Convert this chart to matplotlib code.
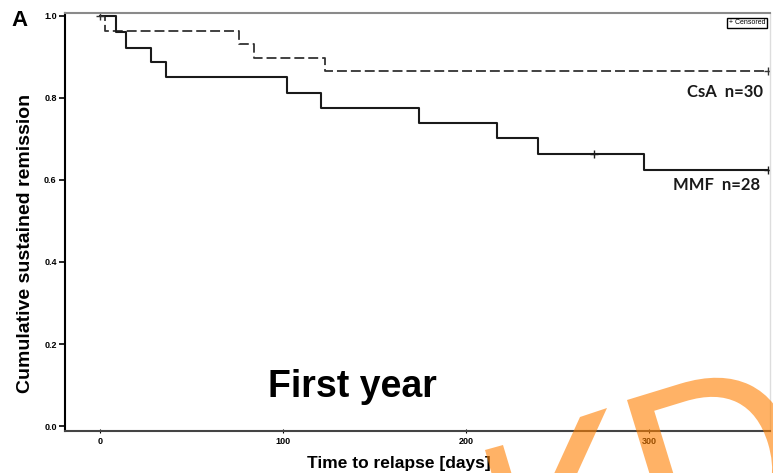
import numpy as np
import matplotlib
matplotlib.use("Agg")
import matplotlib.pyplot as plt
from matplotlib.patches import Polygon, PathPatch
from matplotlib.textpath import TextPath
from matplotlib.font_manager import FontProperties
from matplotlib.transforms import Affine2D, IdentityTransform

# --- data ---
csa_days = [0, 3, 76, 84, 123, 365]
csa_surv = [1.0, 0.963, 0.932, 0.898, 0.866, 0.866]
csa_cens_days = [0, 365]
csa_cens_surv = [1.0, 0.866]

mmf_days = [0, 9, 14, 28, 36, 102, 121, 174, 217, 239, 297, 365]
mmf_surv = [1.0, 0.961, 0.922, 0.888, 0.851, 0.812, 0.776, 0.739, 0.702, 0.663, 0.624, 0.624]
mmf_cens_days = [270, 365]
mmf_cens_surv = [0.663, 0.624]

x_ticks = [0, 100, 200, 300]
y_ticks = [0.0, 0.2, 0.4, 0.6, 0.8, 1.0]

W, H = 773, 473
fig = plt.figure(figsize=(W / 100, H / 100), dpi=100)
fig.patch.set_facecolor("white")


def fx(px):
    return px / W


def fy(py):
    return 1 - py / H


ax = fig.add_axes([fx(65), fy(431), fx(770) - fx(65), fy(13) - fy(431)])

ax.step(csa_days, csa_surv, where="post", color="#333333", lw=1.3, ls=(0, (5.5, 2.2)))
ax.step(mmf_days, mmf_surv, where="post", color="#1a1a1a", lw=1.5)
ax.plot(csa_cens_days, csa_cens_surv, ls="none", marker="+", ms=6, mew=1, color="#333333")
ax.plot(mmf_cens_days, mmf_cens_surv, ls="none", marker="+", ms=6, mew=1, color="#1a1a1a")

ax.set_xlim(-19.1, 366)
ax.set_ylim(-0.012, 1.007)
ax.set_xticks(x_ticks)
ax.set_yticks(y_ticks)
ax.set_xticklabels([str(t) for t in x_ticks], fontsize=6.5, fontweight="bold", family="Liberation Sans")
ax.set_yticklabels([f"{t:.1f}" for t in y_ticks], fontsize=6.5, fontweight="bold", family="Liberation Sans")
ax.tick_params(axis="y", direction="out", length=4, width=1.2, pad=2)
ax.tick_params(axis="x", direction="inout", length=3, width=0.8, pad=3)

ax.spines["left"].set_color("black")
ax.spines["left"].set_linewidth(1.5)
ax.spines["bottom"].set_color("#444444")
ax.spines["bottom"].set_linewidth(1.5)
ax.spines["top"].set_color("#8a8a8a")
ax.spines["top"].set_linewidth(1.5)
ax.spines["right"].set_color("#dddddd")
ax.spines["right"].set_linewidth(1)

ax.text(0.993, 0.985, "+ Censored", transform=ax.transAxes, ha="right", va="top",
        fontsize=5, family="Liberation Sans",
        bbox=dict(boxstyle="square,pad=0.25", fc="white", ec="black", lw=1))

# group labels
fig.text(fx(763), fy(92), "CsA  n=30", ha="right", va="center", fontsize=12, fontweight="bold",
         family="Lato", color="#1a1a1a")
fig.text(fx(760), fy(185), "MMF  n=28", ha="right", va="center", fontsize=12, fontweight="bold",
         family="Lato", color="#1a1a1a")

fig.text(fx(352), fy(397), "First year", ha="center", va="baseline", fontsize=27,
         fontweight="bold", family="Liberation Sans")

fig.text(fx(399), fy(463), "Time to relapse [days]", ha="center", va="center", fontsize=12.5,
         fontweight="bold", family="Liberation Sans")
fig.text(fx(26), fy(243), "Cumulative sustained remission", ha="center", va="center", rotation=90,
         fontsize=14, fontweight="bold", family="Liberation Sans")
fig.text(fx(20), fy(20), "A", ha="center", va="center", fontsize=16, fontweight="bold",
         family="Liberation Sans")

# orange watermark fragments in the lower right corner (pixel coords, y down)
wm_color = "#ff8000"
wm_alpha = 0.6


def to_disp(pts):
    return [(x, H - y) for x, y in pts]


stroke1 = [(485, 450), (503, 445), (518, 495), (499, 500)]
stroke2 = [(580, 417), (607, 408), (565, 500), (542, 500)]
for pts in (stroke1, stroke2):
    fig.add_artist(Polygon(to_disp(pts), closed=True, transform=IdentityTransform(),
                           fc=wm_color, ec="none", alpha=wm_alpha, zorder=10))

tp = TextPath((0, 0), "D", size=245, prop=FontProperties(family="Liberation Sans"))
bb = tp.get_extents()
tr = Affine2D().translate(-bb.x0, -bb.y1).rotate_deg(17).translate(627, H - 400)
fig.add_artist(PathPatch(tr.transform_path(tp), transform=IdentityTransform(),
                         fc=wm_color, ec="none", alpha=wm_alpha, zorder=10))

fig.savefig("out.png", dpi=100)
